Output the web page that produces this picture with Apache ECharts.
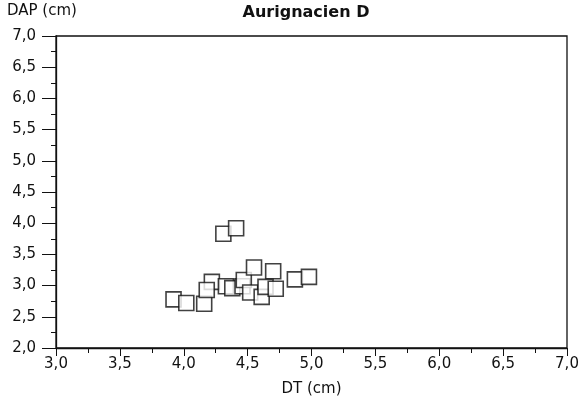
<!DOCTYPE html>
<html><head><meta charset="utf-8">
<script src="https://cdn.jsdelivr.net/npm/echarts@6/dist/echarts.min.js"></script>
<style>html,body{margin:0;padding:0;background:#fff}#c{width:586px;height:407px}</style>
</head><body><div id="c"></div>
<script>
const title = "Aurignacien D";
const xName = "DT (cm)";
const yName = "DAP (cm)";
const dtValues = [4.31, 4.41, 3.92, 4.02, 4.16, 4.22, 4.18, 4.33, 4.38, 4.46, 4.47, 4.55, 4.52, 4.70, 4.61, 4.64, 4.72, 4.87, 4.98];
const dapValues = [3.83, 3.92, 2.78, 2.72, 2.71, 3.06, 2.93, 2.99, 2.96, 2.99, 3.09, 3.29, 2.89, 3.23, 2.82, 2.98, 2.95, 3.10, 3.14];
const fmt = v => v.toFixed(1).replace('.', ',');
const points = dtValues.map((x, i) => [x, dapValues[i]]);
const font = 'DejaVu Sans';
const chart = echarts.init(document.getElementById('c'), null, {renderer: 'canvas'});
chart.setOption({
  animation: false,
  backgroundColor: '#fff',
  title: {text: title, left: 301, top: 0, textAlign: 'center',
    textStyle: {fontFamily: font, fontSize: 16, fontWeight: 'bold', color: '#111'}},
  graphic: [{type: 'text', left: 7, top: 4, style: {text: yName, fontFamily: font, fontSize: 15, fill: '#111'}}],
  grid: {left: 56, right: 19, top: 36, bottom: 59, show: true, borderColor: '#111', borderWidth: 1.3, backgroundColor: 'transparent'},
  xAxis: {type: 'value', min: 3, max: 7, interval: 0.5, name: xName, nameLocation: 'middle', nameGap: 34,
    nameTextStyle: {fontFamily: font, fontSize: 15, color: '#111'},
    axisLine: {lineStyle: {color: '#111', width: 1.3}},
    axisTick: {length: 8, lineStyle: {color: '#111'}},
    minorTick: {show: true, splitNumber: 2, length: 5, lineStyle: {color: '#111'}},
    splitLine: {show: false},
    axisLabel: {formatter: fmt, fontFamily: font, fontSize: 15, color: '#111', margin: 9}},
  yAxis: {type: 'value', min: 2, max: 7, interval: 0.5,
    axisLine: {lineStyle: {color: '#111', width: 1.3}},
    axisTick: {length: 14, lineStyle: {color: '#111'}},
    minorTick: {show: true, splitNumber: 2, length: 5, lineStyle: {color: '#111'}},
    splitLine: {show: false},
    axisLabel: {formatter: fmt, fontFamily: font, fontSize: 15, color: '#111', margin: 20}},
  series: [{type: 'scatter', data: points, symbol: 'rect', symbolSize: 15,
    itemStyle: {color: '#fff', borderColor: '#111', borderWidth: 1.6}}]
});
</script></body></html>
